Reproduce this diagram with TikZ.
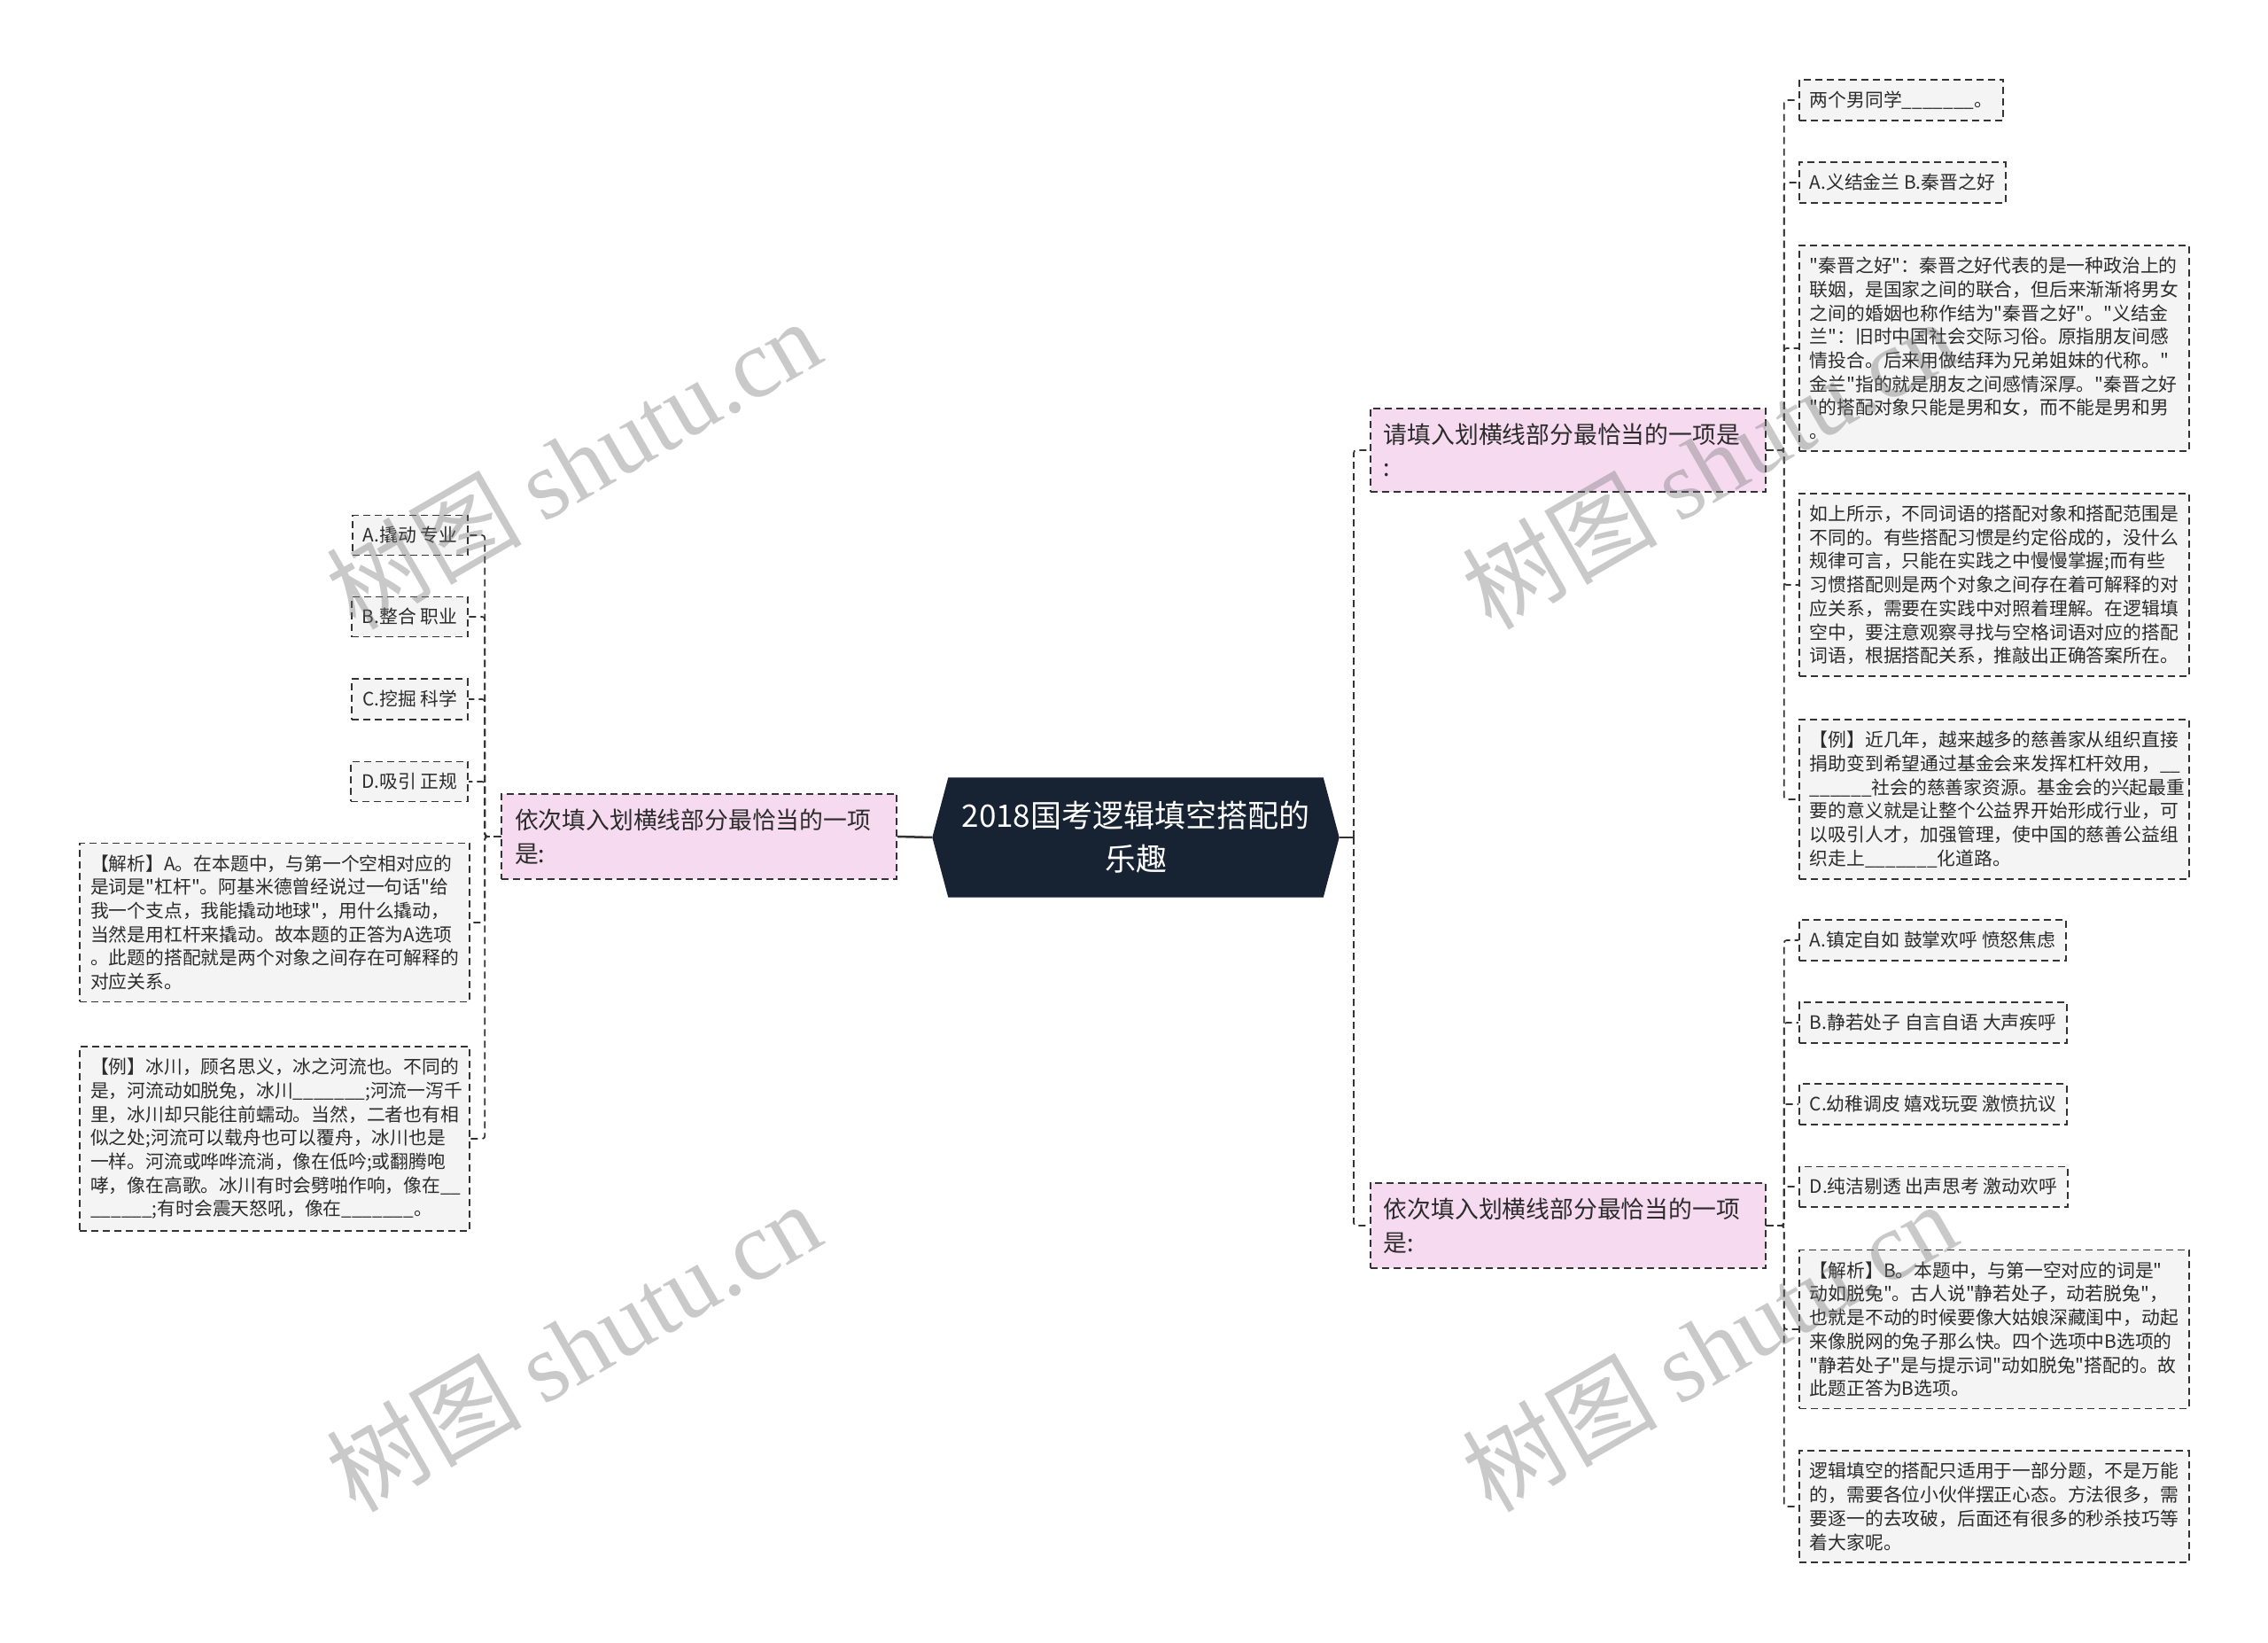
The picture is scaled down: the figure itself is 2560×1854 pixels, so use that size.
\documentclass[tikz,border=0pt]{standalone}
\usepackage{fontspec}
\setmainfont{Noto Sans CJK SC}[Ligatures=TeXOff]
\newfontfamily\wmlatin{Liberation Serif}
\usetikzlibrary{backgrounds}
\definecolor{rootc}{HTML}{172332}
\definecolor{pinkc}{HTML}{F6DBF0}
\definecolor{leafc}{HTML}{F4F4F4}
\definecolor{linec}{HTML}{333333}
\definecolor{txtc}{HTML}{2B2B2B}
\begin{document}
\begin{tikzpicture}[x=1pt,y=-1pt,
  dsh/.style={dash pattern=on 8pt off 5pt},
  leaf/.style={draw=linec, dsh, line width=1.7pt, fill=leafc, inner xsep=12pt, inner ysep=13pt,
    font=\fontsize{20.8}{26.7}\selectfont, text=txtc, align=left},
  longleaf/.style={leaf, text width=416pt},
  mainbox/.style={draw=linec, dsh, line width=1.7pt, fill=pinkc, inner xsep=15pt, inner ysep=17pt,
    text width=416pt, align=left, font=\fontsize{26.8}{37.6}\selectfont, text=txtc},
  rootbox/.style={text=white, align=center, minimum width=459pt, minimum height=135pt,
    font=\fontsize{35}{49}\selectfont},
  conn/.style={draw=linec, line width=1.7pt, dsh, rounded corners=3pt},
  rootconn/.style={draw=linec, line width=2.5pt},
  wm/.style={text=black!55, opacity=0.38, rotate=30, font=\fontsize{110}{110}\selectfont}
]
\useasboundingbox (0,0) rectangle (2560,1854);

% root
\node[rootbox] (root) at (1282,945) {2018国考逻辑填空搭配的\\乐趣};
\begin{pgfonlayer}{background}
\fill[white] (0,0) rectangle (2560,1854);
\fill[rootc] ([xshift=18pt]root.north west) -- ([xshift=-18pt]root.north east) -- (root.east)
  -- ([xshift=-18pt]root.south east) -- ([xshift=18pt]root.south west) -- (root.west) -- cycle;
\end{pgfonlayer}

% left main
\node[mainbox, anchor=east] (lm) at (1013,944) {依次填入划横线部分最恰当的一项\\是:};

% left leaves
\node[leaf, anchor=east] (lA) at (529,604) {A.撬动 专业};
\node[leaf, anchor=east] (lB) at (529,696) {B.整合 职业};
\node[leaf, anchor=east] (lC) at (529,789) {C.挖掘 科学};
\node[leaf, anchor=east] (lD) at (529,882) {D.吸引 正规};
\node[longleaf, anchor=east] (lE) at (531,1041) {【解析】A。在本题中，与第一个空相对应的\\是词是"杠杆"。阿基米德曾经说过一句话"给\\我一个支点，我能撬动地球"，用什么撬动，\\当然是用杠杆来撬动。故本题的正答为A选项\\。此题的搭配就是两个对象之间存在可解释的\\对应关系。};
\node[longleaf, anchor=east] (lF) at (531,1285) {【例】冰川，顾名思义，冰之河流也。不同的\\是，河流动如脱兔，冰川\_\_\_\_\_\_\_;河流一泻千\\里，冰川却只能往前蠕动。当然，二者也有相\\似之处;河流可以载舟也可以覆舟，冰川也是\\一样。河流或哗哗流淌，像在低吟;或翻腾咆\\哮，像在高歌。冰川有时会劈啪作响，像在\_\_\\\_\_\_\_\_\_;有时会震天怒吼，像在\_\_\_\_\_\_\_。};

% right mains
\node[mainbox, anchor=west] (rm1) at (1546,508) {请填入划横线部分最恰当的一项是\\:};
\node[mainbox, anchor=west] (rm2) at (1546,1383) {依次填入划横线部分最恰当的一项\\是:};

% right top leaves
\node[leaf, anchor=west] (r1) at (2030,113) {两个男同学\_\_\_\_\_\_\_。};
\node[leaf, anchor=west] (r2) at (2030,206) {A.义结金兰 B.秦晋之好};
\node[longleaf, anchor=west] (r3) at (2030,393) {"秦晋之好"：秦晋之好代表的是一种政治上的\\联姻，是国家之间的联合，但后来渐渐将男女\\之间的婚姻也称作结为"秦晋之好"。"义结金\\兰"：旧时中国社会交际习俗。原指朋友间感\\情投合。后来用做结拜为兄弟姐妹的代称。"\\金兰"指的就是朋友之间感情深厚。"秦晋之好\\"的搭配对象只能是男和女，而不能是男和男\\。};
\node[longleaf, anchor=west] (r4) at (2030,660) {如上所示，不同词语的搭配对象和搭配范围是\\不同的。有些搭配习惯是约定俗成的，没什么\\规律可言，只能在实践之中慢慢掌握;而有些\\习惯搭配则是两个对象之间存在着可解释的对\\应关系，需要在实践中对照着理解。在逻辑填\\空中，要注意观察寻找与空格词语对应的搭配\\词语，根据搭配关系，推敲出正确答案所在。};
\node[longleaf, anchor=west] (r5) at (2030,902) {【例】近几年，越来越多的慈善家从组织直接\\捐助变到希望通过基金会来发挥杠杆效用，\_\_\\\_\_\_\_\_\_社会的慈善家资源。基金会的兴起最重\\要的意义就是让整个公益界开始形成行业，可\\以吸引人才，加强管理，使中国的慈善公益组\\织走上\_\_\_\_\_\_\_化道路。};

% right bottom leaves
\node[leaf, anchor=west] (s1) at (2030,1061) {A.镇定自如 鼓掌欢呼 愤怒焦虑};
\node[leaf, anchor=west] (s2) at (2030,1154) {B.静若处子 自言自语 大声疾呼};
\node[leaf, anchor=west] (s3) at (2030,1246) {C.幼稚调皮 嬉戏玩耍 激愤抗议};
\node[leaf, anchor=west] (s4) at (2030,1339) {D.纯洁剔透 出声思考 激动欢呼};
\node[longleaf, anchor=west] (s5) at (2030,1500) {【解析】B。本题中，与第一空对应的词是"\\动如脱兔"。古人说"静若处子，动若脱兔"，\\也就是不动的时候要像大姑娘深藏闺中，动起\\来像脱网的兔子那么快。四个选项中B选项的\\"静若处子"是与提示词"动如脱兔"搭配的。故\\此题正答为B选项。};
\node[longleaf, anchor=west] (s6) at (2030,1700) {逻辑填空的搭配只适用于一部分题，不是万能\\的，需要各位小伙伴摆正心态。方法很多，需\\要逐一的去攻破，后面还有很多的秒杀技巧等\\着大家呢。};

% connectors
\coordinate (rsp) at (1528,945);
\draw[rootconn] (lm.east) -- (root.west);
\draw[rootconn] (root.east) -- (rsp);
\draw[conn] (rsp) |- (rm1.west);
\draw[conn] (rsp) |- (rm2.west);

\foreach \n in {lA,lB,lC,lD,lE,lF}
  \draw[conn] (lm.west) -- ++(-18,0) |- (\n.east);
\foreach \n in {r1,r2,r3,r4,r5}
  \draw[conn] (rm1.east) -- ++(20,0) |- (\n.west);
\foreach \n in {s1,s2,s3,s4,s5,s6}
  \draw[conn] (rm2.east) -- ++(20,0) |- (\n.west);

% watermarks
\node[wm] (w1) at (647,523) {树图 {\wmlatin shutu.cn}};
\node[wm] (w2) at (647,1519) {树图 {\wmlatin shutu.cn}};
\node[wm] (w3) at (1929,523) {树图 {\wmlatin shutu.cn}};
\node[wm] (w4) at (1929,1519) {树图 {\wmlatin shutu.cn}};
\end{tikzpicture}
\end{document}
